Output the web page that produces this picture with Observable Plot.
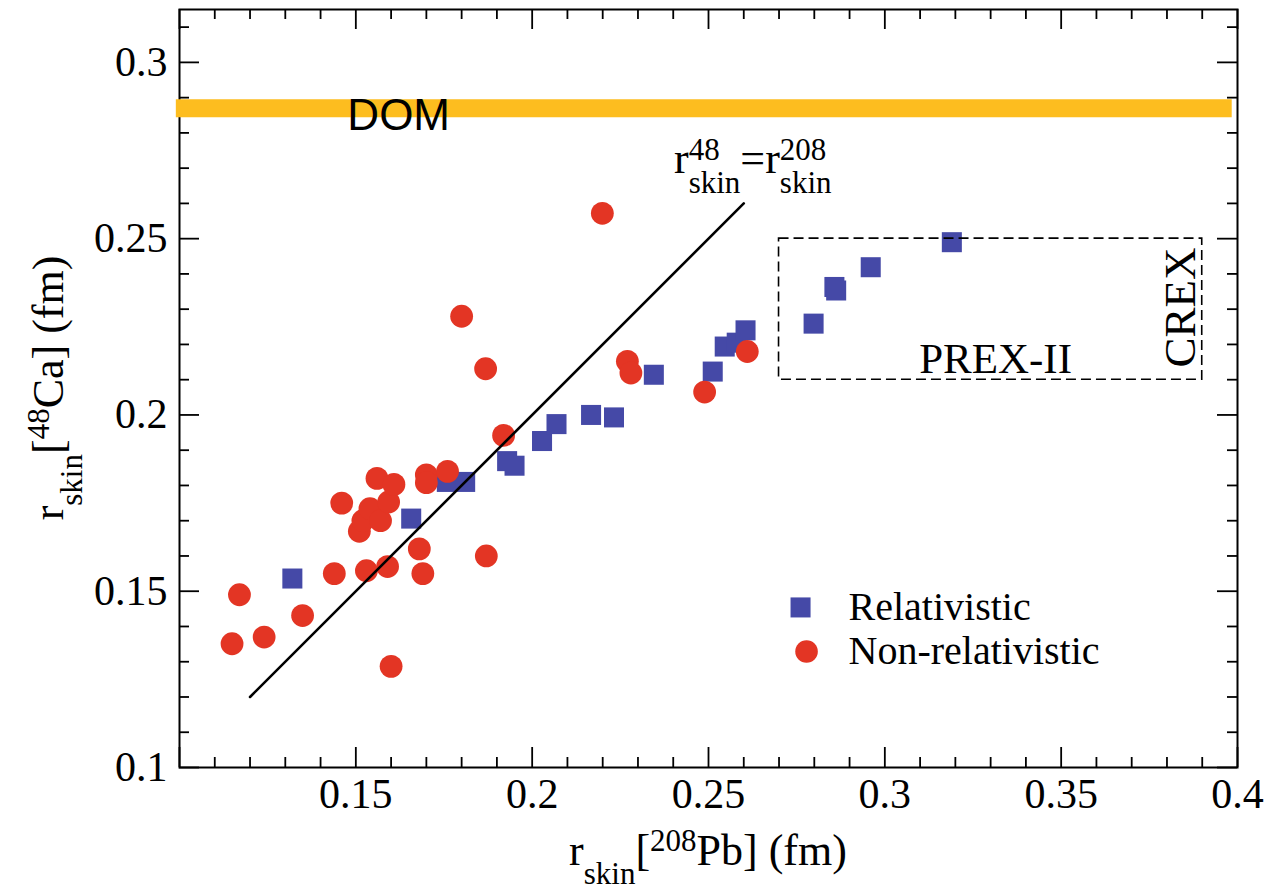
<!DOCTYPE html>
<html><head><meta charset="utf-8">
<script src="https://cdn.jsdelivr.net/npm/d3@7"></script>
<script src="https://cdn.jsdelivr.net/npm/@observablehq/plot@0.6"></script>
<style>html,body{margin:0;padding:0;background:#fff;} svg{display:block}</style>
</head><body><div id="chart"></div>
<script>
// ---- data ----
const relX = [0.132, 0.1657, 0.1758, 0.181, 0.1929, 0.195, 0.2028, 0.2069, 0.2167, 0.2232, 0.2345, 0.2512, 0.2546, 0.258, 0.2605, 0.2798, 0.2857, 0.2862, 0.296, 0.319];
const relY = [0.1536, 0.1706, 0.181, 0.181, 0.1869, 0.1856, 0.1926, 0.1974, 0.2, 0.1993, 0.2114, 0.2123, 0.2194, 0.2205, 0.224, 0.2259, 0.2363, 0.2353, 0.2419, 0.249];
const nonX = [0.1149, 0.117, 0.124, 0.1349, 0.1439, 0.146, 0.151, 0.152, 0.154, 0.153, 0.156, 0.157, 0.159, 0.1593, 0.1608, 0.160, 0.168, 0.169, 0.170, 0.170, 0.176, 0.180, 0.187, 0.1868, 0.1919, 0.2199, 0.227, 0.228, 0.2489, 0.261];
const nonY = [0.1351, 0.149, 0.137, 0.1431, 0.155, 0.175, 0.167, 0.170, 0.1734, 0.1558, 0.182, 0.170, 0.157, 0.1753, 0.1803, 0.1287, 0.162, 0.155, 0.183, 0.1808, 0.184, 0.228, 0.160, 0.2131, 0.1942, 0.2572, 0.2152, 0.2119, 0.2065, 0.218];
const seriesNames = ["Relativistic", "Non-relativistic"];
const diagX = [0.12, 0.26];
const diagY = [0.12, 0.26];
const domValue = [0.287];
const prexBox = {x1: 0.27, x2: 0.39, y1: 0.21, y2: 0.25};
// ticks
const xMajor = [0.1, 0.15, 0.2, 0.25, 0.3, 0.35, 0.4];
const xMinor = [0.11, 0.12, 0.13, 0.14, 0.16, 0.17, 0.18, 0.19, 0.21, 0.22, 0.23, 0.24, 0.26, 0.27, 0.28, 0.29, 0.31, 0.32, 0.33, 0.34, 0.36, 0.37, 0.38, 0.39];
const xTickLabels = [0.15, 0.2, 0.25, 0.3, 0.35, 0.4];
const yMajor = [0.1, 0.15, 0.2, 0.25, 0.3];
const yMinor = [0.11, 0.12, 0.13, 0.14, 0.16, 0.17, 0.18, 0.19, 0.21, 0.22, 0.23, 0.24, 0.26, 0.27, 0.28, 0.29, 0.31];
const yTickLabels = [0.1, 0.15, 0.2, 0.25, 0.3];

// ---- styling ----
const BLUE = "#4549a7", RED = "#e33524", ORANGE = "#fdbd1f";
const W = 1271, H = 890, mL = 179, mR = 34, mT = 9, mB = 123;
const pw = W - mL - mR, ph = H - mT - mB;
const SERIF = "'Liberation Serif', 'Times New Roman', serif";
const SANS = "'Liberation Sans', Arial, sans-serif";

const rel = relX.map((x, i) => ({x, y: relY[i]}));
const non = nonX.map((x, i) => ({x, y: nonY[i]}));
const diag = diagX.map((x, i) => ({x, y: diagY[i]}));
const legend = [
  {label: seriesNames[0], symbol: "square", color: BLUE, lx: 0.2761, ly: 0.1454},
  {label: seriesNames[1], symbol: "circle", color: RED, lx: 0.2778, ly: 0.1329}
];
const tw = 1.8;

const plot = Plot.plot({
  width: W, height: H,
  marginLeft: mL, marginRight: mR, marginTop: mT, marginBottom: mB,
  x: {domain: [0.1, 0.4]},
  y: {domain: [0.1, 0.315]},
  style: {fontFamily: SERIF, fontSize: "42px", background: "white", color: "black"},
  marks: [
    Plot.frame({stroke: "black", strokeWidth: 2}),
    // inward ticks on all four sides
    Plot.tickX(xMajor, {x: d => d, insetTop: ph - 20, stroke: "black", strokeWidth: tw}),
    Plot.tickX(xMinor, {x: d => d, insetTop: ph - 10, stroke: "black", strokeWidth: tw}),
    Plot.tickX(xMajor, {x: d => d, insetBottom: ph - 20, stroke: "black", strokeWidth: tw}),
    Plot.tickX(xMinor, {x: d => d, insetBottom: ph - 10, stroke: "black", strokeWidth: tw}),
    Plot.tickY(yMajor, {y: d => d, insetRight: pw - 20, stroke: "black", strokeWidth: tw}),
    Plot.tickY(yMinor, {y: d => d, insetRight: pw - 10, stroke: "black", strokeWidth: tw}),
    Plot.tickY(yMajor, {y: d => d, insetLeft: pw - 20, stroke: "black", strokeWidth: tw}),
    Plot.tickY(yMinor, {y: d => d, insetLeft: pw - 10, stroke: "black", strokeWidth: tw}),
    Plot.axisX(xTickLabels, {anchor: "bottom", tickSize: 0, tickPadding: 11, fontSize: 42, label: null, tickFormat: d => String(d)}),
    Plot.axisY(yTickLabels, {anchor: "left", tickSize: 0, tickPadding: 12, fontSize: 42, label: null, tickFormat: d => String(d)}),
    // DOM band
    Plot.ruleY(domValue, {y: d => d, x1: () => 0.0991, x2: () => 0.3985, stroke: ORANGE, strokeWidth: 18}),
    Plot.text(["DOM"], {x: () => 0.1476, y: () => 0.2847, text: d => d, textAnchor: "start", fontFamily: SANS, fontSize: 44, fill: "black"}),
    // data
    Plot.dot(rel, {x: "x", y: "y", symbol: "square", r: 11.3, fill: BLUE}),
    Plot.dot(non, {x: "x", y: "y", symbol: "circle", r: 11.4, fill: RED}),
    Plot.line(diag, {x: "x", y: "y", stroke: "black", strokeWidth: 2.6}),
    // PREX-II box
    Plot.rect([prexBox], {x1: "x1", x2: "x2", y1: "y1", y2: "y2", fill: "none", stroke: "black", strokeWidth: 1.6, strokeDasharray: "10,5"}),
    Plot.text(["PREX-II"], {x: () => 0.3314, y: () => 0.2157, text: d => d, fontSize: 43, fill: "black"}),
    Plot.text(["CREX"], {x: () => 0.384, y: () => 0.2305, text: d => d, rotate: -90, fontSize: 45, fill: "black"}),
    // legend
    Plot.dot(legend, {x: "lx", y: "ly", symbol: "symbol", r: 11.3, fill: "color"}),
    Plot.text(legend, {x: () => 0.2897, y: "ly", text: "label", textAnchor: "start", fontSize: 40, fill: "black"})
  ]
});
document.getElementById("chart").appendChild(plot);

// ---- rich text labels with sub/superscripts ----
const svg = d3.select(plot);
function rich(parts, x, y, anchor, rotate) {
  const g = svg.append("g").attr("transform", `translate(${x},${y}) rotate(${rotate || 0})`);
  const inner = g.append("g").attr("text-anchor", "start");
  let cx = 0, pending = 0;
  for (const p of parts) {
    const t = inner.append("text")
      .attr("x", cx).attr("y", p.dy || 0)
      .attr("text-anchor", "start")
      .attr("font-family", SERIF).attr("font-size", p.s)
      .attr("fill", "black").text(p.t);
    const w = t.node().getComputedTextLength();
    if (p.stack) { pending = Math.max(pending, w); }
    else { cx += Math.max(w, pending); pending = 0; }
  }
  if (anchor === "middle") inner.attr("transform", `translate(${-cx / 2},0)`);
}
const M = 44, S = 31;
// x-axis title
rich([{t: "r", s: M}, {t: "skin", s: S, dy: 19}, {t: "[", s: M}, {t: "208", s: S, dy: -14}, {t: "Pb] (fm)", s: M}],
  mL + pw / 2, 865, "middle", 0);
// y-axis title
rich([{t: "r", s: M}, {t: "skin", s: S, dy: 19}, {t: "[", s: M}, {t: "48", s: S, dy: -14}, {t: "Ca] (fm)", s: M}],
  63, 388, "middle", -90);
// diagonal label
rich([{t: "r", s: M}, {t: "48", s: S, dy: -13, stack: true}, {t: "skin", s: S, dy: 20},
      {t: "=", s: M}, {t: "r", s: M}, {t: "208", s: S, dy: -13, stack: true}, {t: "skin", s: S, dy: 20}],
  674, 173, "start", 0);
</script>
</body></html>
